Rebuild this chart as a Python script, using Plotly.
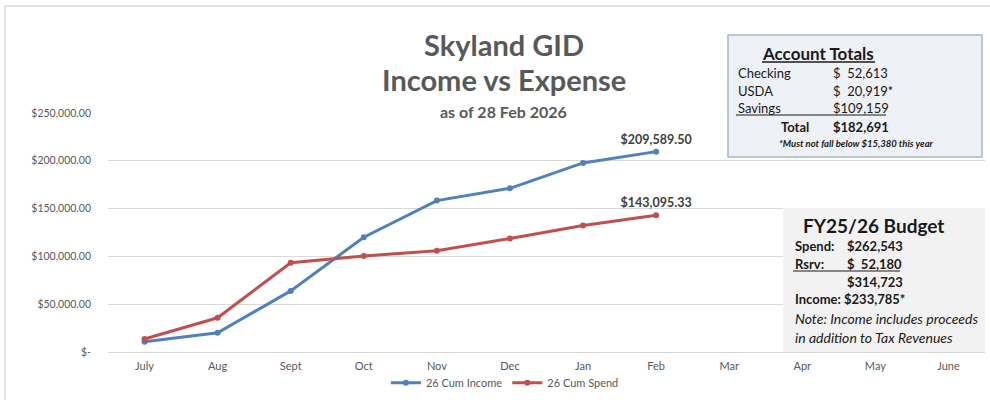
import plotly.graph_objects as go

months = ["July", "Aug", "Sept", "Oct", "Nov", "Dec", "Jan", "Feb", "Mar", "Apr", "May", "June"]
income_months = ["July", "Aug", "Sept", "Oct", "Nov", "Dec", "Jan", "Feb"]
cum_income = [10800, 20100, 63900, 120000, 158400, 171200, 197800, 209589.50]
cum_spend = [13600, 35800, 93300, 100300, 106000, 118700, 132400, 143095.33]
income_label = "$209,589.50"
spend_label = "$143,095.33"
ytick_vals = [0, 50000, 100000, 150000, 200000, 250000]
ytick_text = ["$-", "$50,000.00", "$100,000.00", "$150,000.00", "$200,000.00", "$250,000.00"]

W, H = 990, 400
L, R, T, B = 108, 5, 113, 48
PW, PH = W - L - R, H - T - B


def px(x):
    return (x - L) / PW


def py(y):
    return (H - B - y) / PH


FONT = "Lato, 'Open Sans', sans-serif"
GRAY = "#595959"
DARK = "#1a1a1a"

fig = go.Figure()
fig.add_trace(go.Scatter(
    x=months, y=[None] * len(months), showlegend=False, hoverinfo="skip", mode="lines"))
fig.add_trace(go.Scatter(
    x=income_months, y=cum_income, name="26 Cum Income",
    mode="lines+markers+text",
    text=[""] * (len(cum_income) - 1) + [income_label],
    textposition="top center",
    textfont=dict(family=FONT, size=12.5, color="#404040", weight="bold"),
    line=dict(color="#4f81bd", width=3),
    marker=dict(color="#4f81bd", size=6),
    cliponaxis=False,
))
fig.add_trace(go.Scatter(
    x=income_months, y=cum_spend, name="26 Cum Spend",
    mode="lines+markers+text",
    text=[""] * (len(cum_spend) - 1) + [spend_label],
    textposition="top center",
    textfont=dict(family=FONT, size=12.5, color="#404040", weight="bold"),
    line=dict(color="#c0504d", width=3),
    marker=dict(color="#c0504d", size=6),
    cliponaxis=False,
))

shapes = [
    # outer chart border
    dict(type="rect", xref="paper", yref="paper", x0=px(5), x1=px(1000), y0=py(420), y1=py(6),
         line=dict(color="#d9d9d9", width=1.5), fillcolor="rgba(0,0,0,0)", layer="below"),
    # Account totals box
    dict(type="rect", xref="paper", yref="paper", x0=px(728), x1=px(982), y0=py(157), y1=py(35),
         line=dict(color="#a8b6c8", width=1.5), fillcolor="#eef1f5", layer="above"),
    # Budget box
    dict(type="rect", xref="paper", yref="paper", x0=px(783), x1=px(985), y0=py(352), y1=py(208),
         line=dict(color="#f2f2f2", width=0), fillcolor="#f2f2f2", layer="above"),
    # underline: Savings row
    dict(type="line", xref="paper", yref="paper", x0=px(736), x1=px(886), y0=py(115), y1=py(115),
         line=dict(color=DARK, width=1), layer="above"),
    # underline: Account Totals
    dict(type="line", xref="paper", yref="paper", x0=px(762), x1=px(875), y0=py(62), y1=py(62),
         line=dict(color=DARK, width=1.5), layer="above"),
    # underline: Rsrv row
    dict(type="line", xref="paper", yref="paper", x0=px(793), x1=px(900), y0=py(271), y1=py(271),
         line=dict(color=DARK, width=1), layer="above"),
]

ann = []


def text(x, y, s, size, anchor="left", bold=False, italic=False, color=DARK):
    ann.append(dict(
        x=px(x), y=py(y), xref="paper", yref="paper", text=s, showarrow=False,
        xanchor=anchor, yanchor="middle",
        font=dict(family=FONT, size=size, color=color,
                  weight="bold" if bold else "normal",
                  style="italic" if italic else "normal"),
    ))


# Title
text(504, 45, "Skyland GID", 29, anchor="center", bold=True, color=GRAY)
text(504, 80, "Income vs Expense", 29, anchor="center", bold=True, color=GRAY)
text(503, 111, "as of 28 Feb 2026", 16, anchor="center", bold=True, color=GRAY)

# Account totals
text(818, 53, "Account Totals", 17, anchor="center", bold=True)
text(736, 73, "Checking", 13)
text(831, 73, "$  52,613", 13)
text(736, 91, "USDA", 13)
text(831, 91, "$  20,919*", 13)
text(736, 108, "Savings", 13)
text(831, 108, "$109,159", 13)
text(779, 127, "Total", 13, bold=True)
text(831, 127, "$182,691", 13, bold=True)
text(856, 143, "*Must not fall below $15,380 this year", 9.5, anchor="center", bold=True, italic=True)

# Budget box
text(801, 225, "FY25/26 Budget", 19, bold=True)
text(793, 246, "Spend:", 13, bold=True)
text(845, 246, "$262,543", 13, bold=True)
text(793, 264, "Rsrv:", 13, bold=True)
text(845, 264, "$  52,180", 13, bold=True)
text(845, 282, "$314,723", 13, bold=True)
text(793, 299, "Income: $233,785*", 13, bold=True)
text(793, 318, "Note: Income includes proceeds", 14, italic=True)
text(793, 337, "in addition to Tax Revenues", 14, italic=True)

fig.update_layout(
    width=W, height=H,
    margin=dict(l=L, r=R, t=T, b=B, autoexpand=False),
    paper_bgcolor="white", plot_bgcolor="white",
    font=dict(family=FONT, color=GRAY),
    showlegend=True,
    legend=dict(orientation="h", xref="container", yref="container",
                x=0.51, xanchor="center", y=0.043, yanchor="middle",
                font=dict(family=FONT, size=11, color=GRAY),
                tracegroupgap=0, bgcolor="rgba(0,0,0,0)"),
    xaxis=dict(categoryorder="array", categoryarray=months, type="category",
               range=[-0.5, len(months) - 0.5], automargin=False,
               showgrid=False, showline=False, zeroline=False,
               tickfont=dict(family=FONT, size=11, color=GRAY),
               ticks="", ticklabelstandoff=6, fixedrange=True),
    yaxis=dict(range=[0, 250000], tickvals=ytick_vals, ticktext=ytick_text,
               automargin=False,
               showgrid=True, gridcolor="#d9d9d9", gridwidth=1,
               zeroline=True, zerolinecolor="#d9d9d9", zerolinewidth=1,
               showline=False, ticks="",
               tickfont=dict(family=FONT, size=10.5, color=GRAY),
               ticklabelstandoff=16, fixedrange=True),
    shapes=shapes,
    annotations=ann,
)

fig.write_html("out.html", config={"displayModeBar": False},
               post_script="document.body.style.margin='0';")
